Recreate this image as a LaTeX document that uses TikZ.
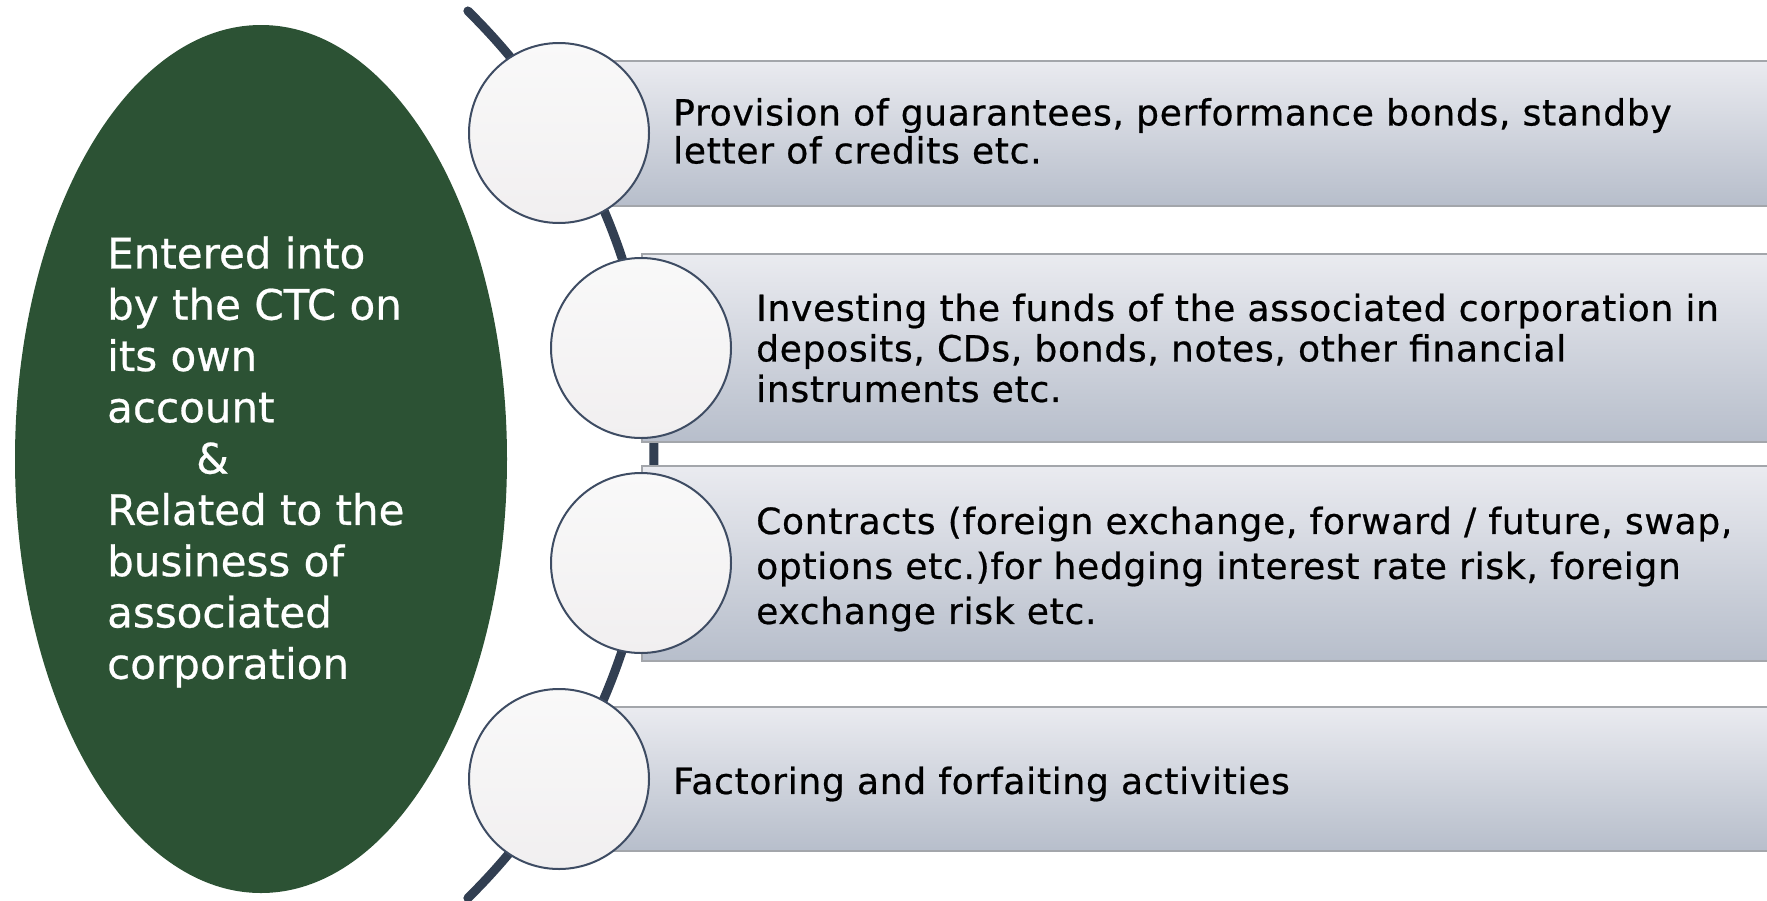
\documentclass[tikz,border=0pt]{standalone}
\usepackage{fontspec}
\setmainfont{DejaVu Sans}[FakeBold=0.6]
\newfontfamily\barfont{DejaVu Sans}[LetterSpace=2,FakeBold=0.6]
\usetikzlibrary{positioning,shapes.geometric}
\definecolor{leafgreen}{HTML}{2C5234}
\definecolor{spine}{HTML}{323F52}
\definecolor{ringline}{HTML}{3E4C63}
\definecolor{bartop}{HTML}{EAEBF0}
\definecolor{barbot}{HTML}{B7BECB}
\definecolor{barline}{HTML}{A3A6AB}
\definecolor{disctop}{HTML}{F9F9F9}
\definecolor{discbot}{HTML}{F1EFF0}

\begin{document}
\begin{tikzpicture}[x=1pt,y=-1pt,
  bar/.style 2 args={draw=barline, line width=2pt, top color=bartop, bottom color=barbot,
    minimum width=#1, minimum height=#2, anchor=west, inner sep=0pt},
  disc/.style={circle, draw=ringline, line width=2pt, top color=disctop, bottom color=discbot,
    minimum size=180pt, inner sep=0pt},
  note/.style={align=left, inner sep=0pt, anchor=west, font=\barfont\fontsize{36}{#1}\selectfont},
  note/.default=40]
\useasboundingbox (0,0) rectangle (1767,900);

\node[ellipse, fill=leafgreen, minimum width=492pt, minimum height=868pt, inner sep=0pt] (hub) at (261,459) {};
\node[align=left, inner sep=0pt, anchor=west, text=white, font=\fontsize{42}{51.3}\selectfont] (hubtext) at (107,462)
  {Entered into\\by the CTC on\\its own\\account\\\hspace*{89pt}\&\\Related to the\\business of\\associated\\corporation};

\coordinate (hinge) at (32,454.5);
\draw[spine, line width=9pt, line cap=round] ([shift={(-45.5:621.9)}]hinge) arc[start angle=-45.5, end angle=45.5, radius=621.9];

\node[bar={1208pt}{145pt}] (b1) at (559,133) {};
\node[bar={1126pt}{188pt}] (b2) at (641,348) {};
\node[bar={1126pt}{195pt}] (b3) at (641,563) {};
\node[bar={1208pt}{144pt}] (b4) at (559,779) {};

\node[disc] (c1) at (b1.west) {};
\node[disc] (c2) at (b2.west) {};
\node[disc] (c3) at (b3.west) {};
\node[disc] (c4) at (b4.west) {};

\node[note=38, right=114pt of b1.west, yshift=2pt] (t1) {Provision of guarantees, performance bonds, standby\\letter of credits etc.};
\node[note=40.5, right=115pt of b2.west] (t2) {Investing the funds of the associated corporation in\\deposits, CDs, bonds, notes, other financial\\instruments etc.};
\node[note=45, right=115pt of b3.west, yshift=-6pt] (t3) {Contracts (foreign exchange, forward / future, swap,\\options etc.)for hedging interest rate risk, foreign\\exchange risk etc.};
\node[note, right=114pt of b4.west, yshift=-5pt] (t4) {Factoring and forfaiting activities};
\end{tikzpicture}
\end{document}
